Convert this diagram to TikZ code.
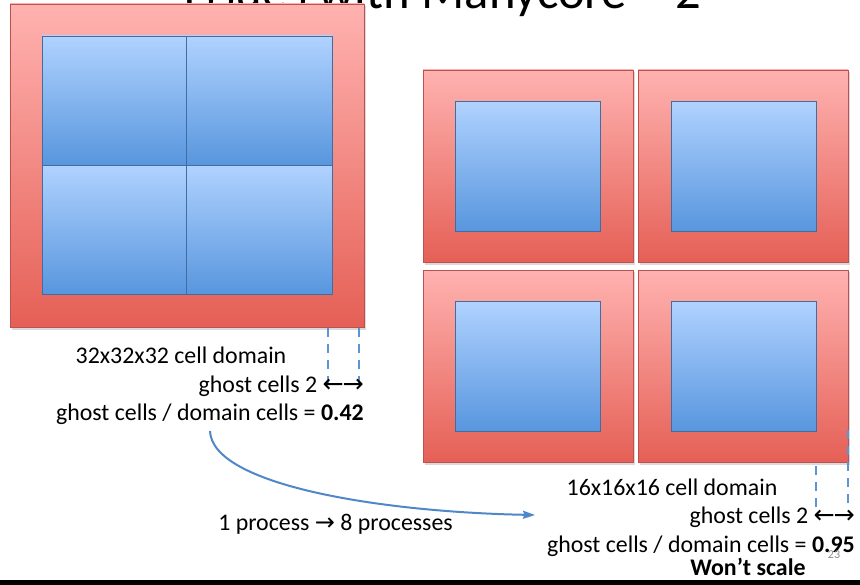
\documentclass[tikz,border=0pt]{standalone}
\usepackage{fontspec}
\setmainfont{Carlito}
\newfontfamily\arrowfont{DejaVu Sans}
\usetikzlibrary{arrows.meta}
\definecolor{redtop}{RGB}{255,178,176}
\definecolor{redbot}{RGB}{229,96,86}
\definecolor{redline}{RGB}{190,80,77}
\definecolor{bluetop}{RGB}{176,210,255}
\definecolor{bluebot}{RGB}{88,150,222}
\definecolor{blueline}{RGB}{65,110,160}
\definecolor{dashblue}{RGB}{91,150,210}
\definecolor{curveblue}{RGB}{79,135,200}
\begin{document}
\begin{tikzpicture}[x=0.75pt,y=0.75pt,yscale=-1,xscale=1,
  ghostbox/.style={draw=redline, line width=0.6, top color=redtop, bottom color=redbot},
  cellbox/.style={draw=blueline, line width=0.6, top color=bluetop, bottom color=bluebot},
  boxshadow/.style={fill=black, opacity=0.15},
  ghostmark/.style={draw=dashblue, line width=1.8, dash pattern=on 7pt off 5pt},
  lbl/.style={inner sep=0pt, font=\fontsize{17.9}{21}\selectfont},
  flowarrow/.style={draw=curveblue, line width=1.5, -{Stealth[length=9pt,width=6pt,inset=1pt]}}]
\useasboundingbox (0,0) rectangle (860,585);
\clip (0,0) rectangle (860,585);

% Title (cut off at the top)
\node (title) [anchor=base, inner sep=0pt, font=\fontsize{38}{44}\selectfont] at (442,9) {Issues with Manycore -- 2};

%Shape: Rectangle [one process]
\fill[boxshadow] (12,6) rectangle (366,330);
\draw[ghostbox] (10,4) rectangle (364,327);
\draw[cellbox] (42,36) rectangle (186,165);
\draw[cellbox] (186,36) rectangle (332,165);
\draw[cellbox] (42,165) rectangle (186,294);
\draw[cellbox] (186,165) rectangle (332,294);

%Shape: Rectangle [process 1]
\fill[boxshadow] (425,72) rectangle (635,265);
\draw[ghostbox] (423,70) rectangle (633,262);
\draw[cellbox] (455,101) rectangle (600,231);
%Shape: Rectangle [process 2]
\fill[boxshadow] (640,72) rectangle (850,265);
\draw[ghostbox] (638,70) rectangle (848,262);
\draw[cellbox] (671,101) rectangle (816,231);
%Shape: Rectangle [process 3]
\fill[boxshadow] (425,272) rectangle (635,465);
\draw[ghostbox] (423,270) rectangle (633,462);
\draw[cellbox] (455,301) rectangle (600,431);
%Shape: Rectangle [process 4]
\fill[boxshadow] (640,272) rectangle (850,465);
\draw[ghostbox] (638,270) rectangle (848,462);
\draw[cellbox] (671,301) rectangle (816,431);

%Straight Lines [ghost width, left]
\draw[ghostmark] (328,328) -- (328,383);
\draw[ghostmark] (359,328) -- (359,383);
%Straight Lines [ghost width, right]
\draw[ghostmark] (816,466) -- (816,509);
\draw[ghostmark] (848,430) -- (848,509);

% Text Node
\node (dom32) [lbl, anchor=base] at (181,363) {32x32x32 cell domain};
% Text Node
\node (ghost32) [lbl, anchor=base east] at (364,392) {ghost cells 2 {\arrowfont\fontsize{19}{20}\selectfont ←\kern-1pt→}};
% Text Node
\node (ratio32) [lbl, anchor=base east] at (364,420) {ghost cells / domain cells = \textbf{0.42}};
% Text Node
\node (dom16) [lbl, anchor=base] at (672,495) {16x16x16 cell domain};
% Text Node
\node (ghost16) [lbl, anchor=base east] at (855,523) {ghost cells 2 {\arrowfont\fontsize{19}{20}\selectfont ←\kern-1pt→}};
% Text Node
\node (ratio16) [lbl, anchor=base east] at (855,552) {ghost cells / domain cells = \textbf{0.95}};
% Text Node
\node (noscale) [lbl, anchor=base] at (748,575) {\textbf{Won’t scale}};
% Text Node
\node (procs) [lbl, anchor=base west] at (218,530) {1 process {\arrowfont\fontsize{18}{20}\selectfont →} 8 processes};
% Text Node
\node (pagenum) [inner sep=0pt, anchor=base, text=black!45, font=\fontsize{9}{10}\selectfont] at (834,558) {23};

%Curve Lines [from one process to eight]
\coordinate (flowstart) at (210,431);
\coordinate (flowend) at (535,515);
\draw[flowarrow] (flowstart) .. controls (212,485) and (380,512) .. (flowend);

% bottom rule
\fill[black] (0,580) rectangle (860,585);

\end{tikzpicture}
\end{document}
